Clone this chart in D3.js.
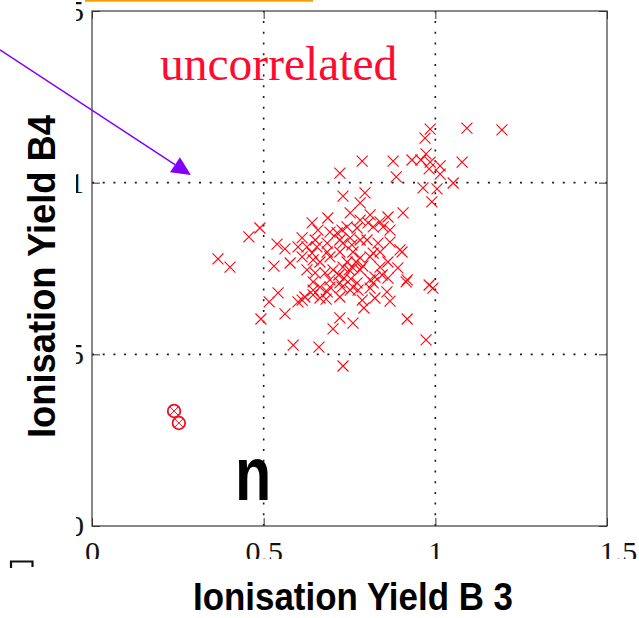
<!DOCTYPE html>
<html>
<head>
<meta charset="utf-8">
<script src="https://cdn.jsdelivr.net/npm/d3@7"></script>
<style>
  html, body { margin: 0; padding: 0; background: #fff; }
  svg { display: block; }
</style>
</head>
<body>
<svg id="chart" width="639" height="618"></svg>
<script>
// Ionisation yield measured in detector B3 (x) against B4 (y), one cross per event
const yieldB3 = [
  1.194, 1.092, 0.985, 0.970, 0.787, 0.877, 0.932, 0.958, 0.973, 0.985,
  1.014, 0.982, 1.014, 1.078, 1.052, 0.964, 1.005, 0.722, 0.886, 0.731,
  0.795, 0.990, 0.906, 0.367, 0.402, 0.457, 0.489, 0.539, 0.562, 0.530,
  0.577, 0.542, 0.516, 0.492, 0.562, 0.586, 0.600, 0.600, 0.661, 0.731,
  0.702, 0.722, 0.760, 0.612, 0.644, 0.685, 0.722, 0.644, 0.760, 0.792,
  0.824, 0.868, 0.859, 0.918, 0.973, 0.915, 0.982, 0.993, 0.819, 0.772,
  0.781, 0.862, 0.752, 0.810, 0.848, 0.819, 0.781, 0.743, 0.868, 0.903,
  0.781, 0.757, 0.731, 0.891, 0.862, 0.845, 0.918, 0.810, 0.760, 0.743,
  0.781, 0.819, 0.833, 0.754, 0.728, 0.824, 0.775, 0.687, 0.641, 0.658,
  0.612, 0.626, 0.655, 0.685, 0.714, 0.752, 0.612, 0.641, 0.664, 0.693,
  0.722, 0.650, 0.679, 0.702, 0.731, 0.664, 0.693, 0.722, 0.682, 0.839,
  0.804, 0.772, 0.728, 0.693, 0.868, 0.650, 0.722, 0.801, 0.897, 0.839,
  0.685, 0.760, 0.810, 0.644, 0.626, 0.719, 0.781, 0.839, 0.862, 0.734,
  0.693, 0.644, 0.752, 0.810, 0.620, 0.664, 0.787, 0.769, 0.789, 0.749
];
const yieldB4 = [
  1.154, 1.159, 1.156, 1.130, 1.063, 1.063, 1.066, 1.066, 1.084, 1.060,
  1.049, 1.040, 1.025, 1.060, 0.999, 0.985, 0.982, 1.028, 1.017, 0.961,
  0.970, 0.944, 0.912, 0.778, 0.754, 0.842, 0.868, 0.821, 0.807, 0.757,
  0.766, 0.679, 0.653, 0.603, 0.618, 0.527, 0.653, 0.813, 0.521, 0.466,
  0.574, 0.606, 0.591, 0.658, 0.673, 0.682, 0.667, 0.711, 0.696, 0.635,
  0.664, 0.655, 0.682, 0.603, 0.542, 0.711, 0.702, 0.693, 0.708, 0.708,
  0.941, 0.900, 0.912, 0.906, 0.871, 0.871, 0.891, 0.871, 0.827, 0.798,
  0.833, 0.819, 0.824, 0.752, 0.769, 0.731, 0.717, 0.717, 0.752, 0.769,
  0.781, 0.795, 0.824, 0.720, 0.696, 0.725, 0.687, 0.897, 0.883, 0.862,
  0.839, 0.813, 0.813, 0.824, 0.854, 0.839, 0.784, 0.795, 0.769, 0.784,
  0.798, 0.737, 0.737, 0.746, 0.754, 0.696, 0.696, 0.708, 0.661, 0.886,
  0.883, 0.868, 0.862, 0.856, 0.862, 0.833, 0.833, 0.833, 0.804, 0.798,
  0.798, 0.798, 0.784, 0.775, 0.746, 0.731, 0.746, 0.754, 0.722, 0.722,
  0.717, 0.687, 0.687, 0.693, 0.667, 0.664, 0.658, 0.769, 0.757, 0.746
];
// Two flagged events drawn as circled crosses (neutron candidates)
const flaggedB3 = [0.239, 0.253];
const flaggedB4 = [0.335, 0.300];

const tickValues = [0, 0.5, 1, 1.5];
const tickLabels = ["0", "0.5", "1", "1.5"];
const gridValues = [0.5, 1];

const svg = d3.select("#chart");
const W = 639, H = 618;
const plot = { left: 92, top: 11, right: 607, bottom: 526 };

const x = d3.scaleLinear().domain([0, 1.5]).range([plot.left, plot.right]);
const y = d3.scaleLinear().domain([0, 1.5]).range([plot.bottom, plot.top]);

svg.append("rect").attr("width", W).attr("height", H).attr("fill", "#fff");

// tick labels sit partly outside the printed area and are cut by these windows
const defs = svg.append("defs");
defs.append("clipPath").attr("id", "clipYLabels")
  .append("rect").attr("x", 76).attr("y", 0).attr("width", plot.left - 76).attr("height", 545);
defs.append("clipPath").attr("id", "clipXLabels")
  .append("rect").attr("x", 60).attr("y", plot.bottom).attr("width", W - 60).attr("height", 559 - plot.bottom);

// dotted grid
const gridStyle = g => g.attr("stroke", "#1a1a1a").attr("stroke-width", 1.6)
  .attr("stroke-dasharray", "2,8.7").attr("fill", "none");
svg.append("g").call(gridStyle).selectAll("line").data(gridValues).join("line")
  .attr("x1", d => x(d)).attr("x2", d => x(d)).attr("y1", plot.bottom).attr("y2", plot.top);
svg.append("g").call(gridStyle).selectAll("line").data(gridValues).join("line")
  .attr("y1", d => y(d)).attr("y2", d => y(d)).attr("x1", plot.left).attr("x2", plot.right);

// inward ticks on all four sides
const tickLen = 8;
const axisFont = "'Liberation Serif', 'Times New Roman', serif";
const bottomWrap = svg.append("g").attr("clip-path", "url(#clipXLabels)");
const bottomAxis = bottomWrap.append("g").attr("transform", `translate(0,${plot.bottom})`)
  .call(d3.axisBottom(x).tickValues(tickValues).tickFormat((d, i) => tickLabels[i])
    .tickSize(-tickLen).tickSizeOuter(0).tickPadding(15));
const leftWrap = svg.append("g").attr("clip-path", "url(#clipYLabels)");
const leftAxis = leftWrap.append("g").attr("transform", `translate(${plot.left},0)`)
  .call(d3.axisLeft(y).tickValues(tickValues).tickFormat((d, i) => tickLabels[i])
    .tickSize(-tickLen).tickSizeOuter(0).tickPadding(8));
// tick marks themselves are drawn unclipped
svg.append("g").attr("transform", `translate(0,${plot.bottom})`)
  .call(d3.axisBottom(x).tickValues(tickValues).tickFormat("").tickSize(-tickLen).tickSizeOuter(0));
svg.append("g").attr("transform", `translate(${plot.left},0)`)
  .call(d3.axisLeft(y).tickValues(tickValues).tickFormat("").tickSize(-tickLen).tickSizeOuter(0));
svg.append("g").attr("transform", `translate(0,${plot.top})`)
  .call(d3.axisTop(x).tickValues(tickValues).tickFormat("").tickSize(-tickLen).tickSizeOuter(0));
svg.append("g").attr("transform", `translate(${plot.right},0)`)
  .call(d3.axisRight(y).tickValues(tickValues).tickFormat("").tickSize(-tickLen).tickSizeOuter(0));

svg.selectAll(".domain").remove();
svg.selectAll(".tick line").attr("stroke", "#333").attr("stroke-width", 1);

bottomAxis.selectAll("text").attr("font-family", axisFont).attr("font-size", 30).attr("fill", "#111")
  .attr("dx", d => d === 1.5 ? 11 : 0);
leftAxis.selectAll("text").attr("font-family", axisFont).attr("font-size", 30).attr("fill", "#111");

// frame
svg.append("rect")
  .attr("x", plot.left).attr("y", plot.top)
  .attr("width", plot.right - plot.left).attr("height", plot.bottom - plot.top)
  .attr("fill", "none").attr("stroke", "#3a3a3a").attr("stroke-width", 1.2);

// event crosses
const events = yieldB3.map((v, i) => ({ b3: v, b4: yieldB4[i] }));
const s = 5.5;
svg.append("g").attr("stroke", "#ff0a14").attr("stroke-width", 1.15).attr("fill", "none")
  .selectAll("path").data(events).join("path")
  .attr("d", d => {
    const cx = x(d.b3), cy = y(d.b4);
    return `M${cx - s},${cy - s}L${cx + s},${cy + s}M${cx - s},${cy + s}L${cx + s},${cy - s}`;
  });

// circled crosses
const flagged = flaggedB3.map((v, i) => ({ b3: v, b4: flaggedB4[i] }));
const fg = svg.append("g").attr("stroke", "#f01020").attr("fill", "none");
fg.selectAll("circle").data(flagged).join("circle")
  .attr("cx", d => x(d.b3)).attr("cy", d => y(d.b4)).attr("r", 6.3).attr("stroke-width", 1.8);
fg.selectAll("path").data(flagged).join("path").attr("stroke-width", 1)
  .attr("d", d => {
    const cx = x(d.b3), cy = y(d.b4), k = 4;
    return `M${cx - k},${cy - k}L${cx + k},${cy + k}M${cx - k},${cy + k}L${cx + k},${cy - k}`;
  });

// annotations
svg.append("text").attr("x", 160).attr("y", 80)
  .attr("font-family", "'Liberation Serif', 'Times New Roman', serif")
  .attr("font-size", 47.5).attr("fill", "#ff0a32").text("uncorrelated");

const narrow = "'Liberation Sans Narrow', 'Arial Narrow', 'Liberation Sans', Arial, sans-serif";
svg.append("text").attr("transform", "translate(235,500) scale(0.78,1)")
  .attr("font-family", narrow).attr("font-weight", "bold").attr("font-size", 76)
  .attr("fill", "#000").text("n");

svg.append("text").attr("x", 193).attr("y", 610)
  .attr("font-family", narrow).attr("font-weight", "bold").attr("font-size", 39)
  .attr("textLength", 320).attr("lengthAdjust", "spacingAndGlyphs")
  .attr("fill", "#000").text("Ionisation Yield B 3");

svg.append("text").attr("transform", "translate(55,438) rotate(-90)")
  .attr("font-family", narrow).attr("font-weight", "bold").attr("font-size", 39)
  .attr("textLength", 323).attr("lengthAdjust", "spacingAndGlyphs")
  .attr("fill", "#000").text("Ionisation Yield B4");

// arrow pointing into the upper-left quadrant
const arrowFrom = [-0.268, 1.387], arrowTo = [0.288, 1.022];
const ax0 = x(arrowFrom[0]), ay0 = y(arrowFrom[1]);
const ax1 = x(arrowTo[0]), ay1 = y(arrowTo[1]);
const ang = Math.atan2(ay1 - ay0, ax1 - ax0);
const headLen = 19, headHalf = 9;
const bx = ax1 - headLen * Math.cos(ang), by = ay1 - headLen * Math.sin(ang);
svg.append("line").attr("x1", ax0).attr("y1", ay0).attr("x2", bx).attr("y2", by)
  .attr("stroke", "#8000ff").attr("stroke-width", 1.5);
svg.append("path").attr("fill", "#8000ff")
  .attr("d", `M${ax1},${ay1}L${bx - headHalf * Math.sin(ang)},${by + headHalf * Math.cos(ang)}` +
             `L${bx + headHalf * Math.sin(ang)},${by - headHalf * Math.cos(ang)}Z`);

// orange rule along the top edge
svg.append("line").attr("x1", 85).attr("x2", 313).attr("y1", 0.8).attr("y2", 0.8)
  .attr("stroke", "#f5a000").attr("stroke-width", 2);

// small clipped glyph fragment at lower left
svg.append("path").attr("d", "M11,568V561.5H32.5V567").attr("fill", "none")
  .attr("stroke", "#111").attr("stroke-width", 2.2);
</script>
</body>
</html>
